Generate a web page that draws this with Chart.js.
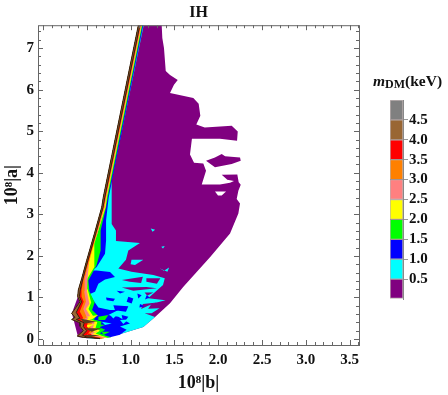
<!DOCTYPE html>
<html lang="en">
<head>
  <meta charset="UTF-8" />
  <title>IH</title>
  <style>
    body { margin: 0; background: #fff; }
    #wrap { position: relative; width: 448px; height: 395px; overflow: hidden; }
    #main { position: absolute; left: 0; top: 0; }
    #bar { position: absolute; left: 380px; top: 90px; }
    #barTitle {
      position: absolute; left: 373px; top: 72px; white-space: nowrap;
      font: bold 15.5px "Liberation Serif", serif; color: #111;
    }
    #barTitle sub { font-size: 12px; vertical-align: -2px; line-height: 0; }
  </style>
  <script src="https://cdn.jsdelivr.net/npm/chart.js"></script>
</head>
<body>
<div id="wrap">
  <canvas id="main" width="448" height="395"></canvas>
  <div id="barTitle"><i>m</i><sub>DM</sub>(keV)</div>
  <canvas id="bar" width="68" height="220"></canvas>
</div>
<script>
  // all contours are [|b|, |a|] in units of 10^-8

  // left edge of the allowed region, shared by every band
  const edge = [[1.088,7.55],[0.688,3.41],[0.67,3.17],[0.586,2.53],[0.498,1.89],[0.441,1.45],[0.403,1.18],[0.396,1.02],[0.422,0.895],[0.327,0.615],[0.365,0.52],[0.327,0.47],[0.422,0.39],[0.422,0.31],[0.46,0.2],[0.392,0.07],[0.46,0.04],[0.651,0.01]];

  // outline of the 0 - 0.5 keV region
  const purpleOuter = [[1.088,7.55],[1.355,7.55],[1.362,7.24],[1.381,7.0],[1.401,6.45],[1.45,6.35],[1.538,6.23],[1.495,6.12],[1.45,5.92],[1.716,5.8],[1.777,5.66],[1.796,5.37],[1.75,5.16],[1.846,5.09],[2.154,5.13],[2.223,4.99],[2.215,4.77],[2.02,4.82],[1.7,4.82],[1.678,4.44],[1.724,4.24],[1.83,4.22],[1.861,4.05],[1.812,3.72],[2.02,3.72],[2.135,3.76],[2.18,3.8],[2.104,3.83],[2.04,3.95],[2.218,3.96],[2.234,3.77],[2.257,3.71],[2.23,3.57],[2.211,3.37],[2.249,3.26],[2.23,3.02],[2.135,2.54],[1.906,1.97],[1.6,1.25],[1.45,0.86],[1.279,0.53],[1.145,0.29],[0.913,0.14],[0.765,0.06],[0.502,0.02],[0.4,0.05],[0.33,0.62],[0.4,1.03],[0.67,3.17]];
  const purpleIsland = [[1.861,4.29],[1.963,4.37],[2.04,4.45],[2.078,4.4],[2.249,4.37],[2.257,4.29],[2.154,4.21],[1.963,4.13]];
  const whiteHole = [[1.963,3.55],[2.089,3.55],[2.04,3.45],[1.998,3.45]];

  // right hand contours of the nested bands, top to bottom
  const cyanRight = [[1.15,7.55],[0.784,3.81],[0.784,2.77],[0.833,2.61],[0.833,2.36],[1.107,2.31],[0.974,2.13],[0.947,1.91],[0.86,1.695],[1.01,1.62],[1.26,1.54],[1.39,1.46],[1.37,1.3],[1.28,1.13],[1.2,0.98],[1.4,0.93],[1.24,0.85],[1.2,0.73],[1.33,0.74],[1.24,0.62],[1.16,0.62],[1.279,0.53],[1.145,0.29],[0.913,0.14],[0.765,0.06],[0.502,0.02]];
  const blueRight = [[1.145,7.55],[0.75,3.41],[0.72,2.85],[0.72,2.37],[0.708,2.05],[0.613,1.73],[0.567,1.65],[0.613,1.65],[0.765,1.61],[0.822,1.49],[0.708,1.43],[0.632,1.33],[0.594,1.135],[0.537,1.08],[0.575,0.935],[0.632,0.76],[0.765,0.7],[0.86,0.7],[0.746,0.575],[0.86,0.535],[0.993,0.375],[0.879,0.3],[0.955,0.22],[0.879,0.1],[0.765,0.04],[0.61,0.02]];
  const greenRight = [[1.136,7.55],[0.74,3.41],[0.72,3.17],[0.658,2.61],[0.658,2.13],[0.61,1.77],[0.518,1.41],[0.53,1.15],[0.59,0.88],[0.56,0.7],[0.62,0.58],[0.58,0.47],[0.67,0.42],[0.65,0.28],[0.71,0.22],[0.65,0.14],[0.72,0.08],[0.78,0.04]];
  const yellowRight = [[1.128,7.55],[0.73,3.41],[0.715,3.17],[0.63,2.6],[0.586,2.29],[0.586,1.73],[0.506,1.45],[0.51,1.2],[0.55,0.88],[0.52,0.72],[0.57,0.56],[0.54,0.47],[0.62,0.41],[0.6,0.27],[0.65,0.2],[0.6,0.13],[0.67,0.08],[0.74,0.03]];
  const pinkRight = [[1.124,7.55],[0.724,3.41],[0.705,3.17],[0.62,2.53],[0.537,2.05],[0.506,1.41],[0.5,1.15],[0.53,0.85],[0.49,0.72],[0.54,0.55],[0.5,0.47],[0.59,0.4],[0.57,0.27],[0.62,0.18],[0.56,0.12],[0.64,0.07],[0.72,0.03]];
  const orangeRight = [[1.118,7.55],[0.718,3.41],[0.7,3.17],[0.614,2.53],[0.53,1.89],[0.475,1.45],[0.47,1.15],[0.49,0.9],[0.46,0.72],[0.5,0.52],[0.46,0.47],[0.56,0.38],[0.54,0.28],[0.58,0.18],[0.53,0.12],[0.6,0.06],[0.7,0.02]];
  const redRight = [[1.112,7.55],[0.712,3.41],[0.69,3.17],[0.606,2.53],[0.52,1.89],[0.462,1.45],[0.44,1.18],[0.44,1.02],[0.465,0.895],[0.42,0.66],[0.46,0.5],[0.43,0.46],[0.51,0.38],[0.5,0.3],[0.54,0.19],[0.5,0.1],[0.56,0.06],[0.68,0.02]];
  const brownRight = [[1.105,7.55],[0.705,3.41],[0.685,3.17],[0.6,2.53],[0.512,1.89],[0.455,1.45],[0.425,1.18],[0.415,1.02],[0.44,0.895],[0.38,0.64],[0.42,0.5],[0.38,0.47],[0.47,0.39],[0.46,0.3],[0.5,0.2],[0.45,0.09],[0.5,0.05],[0.65,0.01]];

  // patches of other levels scattered through the lower part
  const purplePatches = [
    [[0.90,1.42],[1.14,1.5],[1.12,1.35],[0.99,1.38]],
    [[1.18,1.46],[1.34,1.46],[1.30,1.33],[1.18,1.38]],
    [[0.90,1.24],[1.18,1.25],[1.30,1.22],[1.03,1.16]],
    [[1.16,1.12],[1.26,1.12],[1.19,1.04]],
    [[1.30,0.88],[1.14,0.84],[1.12,0.72],[1.2,0.8]]
  ];
  const cyanPatches = [
    [[1.01,1.91],[1.145,1.91],[1.05,1.78],[1.0,1.8]],
    [[1.23,2.66],[1.28,2.63],[1.25,2.58]],
    [[1.35,2.22],[1.39,2.24],[1.37,2.18]],
    [[1.33,1.7],[1.42,1.62],[1.44,1.72],[1.38,1.64]]
  ];
  const bluePatches = [
    [[0.719,1.0],[0.822,0.967],[0.803,0.911],[0.727,0.935]],
    [[0.841,1.159],[0.936,1.135],[0.879,1.095]],
    [[0.974,1.015],[1.031,0.975],[1.012,0.855],[0.955,0.895]],
    [[0.803,0.815],[0.974,0.79],[0.947,0.655],[0.822,0.695]],
    [[1.077,1.095],[1.126,1.055],[1.088,0.975]],
    [[1.183,1.055],[1.221,1.0],[1.164,0.95]],
    [[1.107,0.84],[1.164,0.79],[1.1,0.76]],
    [[0.898,0.576],[0.974,0.536],[0.917,0.376]]
  ];
  const cyanLow = [
    [[0.765,0.576],[0.86,0.616],[0.803,0.496]],
    [[0.879,0.456],[0.974,0.472],[0.917,0.36]],
    [[0.67,0.416],[0.784,0.376],[0.708,0.336]]
  ];
  const greenLow = [
    [[0.632,0.536],[0.746,0.576],[0.708,0.456],[0.632,0.456]],
    [[0.575,0.376],[0.708,0.336],[0.613,0.256]],
    [[0.67,0.176],[0.765,0.176],[0.689,0.096]]
  ];
  const yellowLow = [
    [[0.498,0.536],[0.632,0.576],[0.556,0.472]],
    [[0.479,0.336],[0.594,0.36],[0.517,0.28]],
    [[0.556,0.216],[0.632,0.232],[0.594,0.152]]
  ];
  const brownLow = [
    [[0.422,0.496],[0.613,0.416],[0.479,0.376]],
    [[0.479,0.256],[0.67,0.256],[0.556,0.176]],
    [[0.46,0.096],[0.651,0.096],[0.537,0.04]]
  ];
  const redLow = [
    [[0.498,0.136],[0.556,0.12],[0.529,0.04]]
  ];

  const xTickLabels = ['0.0','0.5','1.0','1.5','2.0','2.5','3.0','3.5'];
  const yTickLabels = ['0','1','2','3','4','5','6','7'];

  // colour bar
  const barLevels = [0.5,0.5,0.5,0.5,0.5,0.5,0.5,0.5,0.5,0.5];
  const barColors = ['#800080','#00ffff','#0000ff','#00ff00','#ffff00','#ff8080','#ff8000','#ff0000','#996633','#808080'];
  const barTicks = ['0.5','1.0','1.5','2.0','2.5','3.0','3.5','4.0','4.5'];

  const serif = '"Liberation Serif", serif';
  const frameColor = '#666';

  function poly(points, color, line) {
    return {
      data: points.map(p => ({ x: p[0], y: p[1] })),
      showLine: true,
      fill: 'shape',
      backgroundColor: color,
      borderColor: line || color,
      borderWidth: line ? 1 : 0,
      pointRadius: 0,
      tension: 0
    };
  }
  function band(right, color, line) {
    return poly(edge.concat(right.slice().reverse()), color, line);
  }

  // back to front
  const layers = [
    poly(purpleOuter, '#800080'),
    poly(purpleIsland, '#800080'),
    poly(whiteHole, '#ffffff'),
    band(cyanRight, '#00ffff'),
    ...purplePatches.map(p => poly(p, '#800080')),
    ...cyanPatches.map(p => poly(p, '#00ffff')),
    band(blueRight, '#0000ff'),
    ...bluePatches.map(p => poly(p, '#0000ff')),
    ...cyanLow.map(p => poly(p, '#00ffff')),
    band(greenRight, '#00ff00'),
    ...greenLow.map(p => poly(p, '#00ff00')),
    band(yellowRight, '#ffff00'),
    band(pinkRight, '#ff8080'),
    band(orangeRight, '#ff8000'),
    ...yellowLow.map(p => poly(p, '#ffff00')),
    band(redRight, '#ff0000'),
    ...redLow.map(p => poly(p, '#ff0000')),
    band(brownRight, '#996633', '#33210f'),
    ...brownLow.map(p => poly(p, '#5a3d1e'))
  ];
  layers.forEach((l, i) => { l.order = layers.length - i; });

  // frame with inward ticks on all four sides, Mathematica style
  const frameTicks = {
    id: 'frameTicks',
    afterDraw(chart) {
      const { ctx, chartArea: a, scales } = chart;
      ctx.save();
      ctx.strokeStyle = frameColor;
      ctx.lineWidth = 1;
      ctx.beginPath();
      for (let i = 0; i <= 36; i++) {
        const px = Math.round(scales.x.getPixelForValue(i / 10)) + 0.5;
        const len = i % 5 === 0 ? 5 : 3;
        ctx.moveTo(px, a.bottom); ctx.lineTo(px, a.bottom - len);
        ctx.moveTo(px, a.top); ctx.lineTo(px, a.top + len);
      }
      for (let i = 0; i <= 37; i++) {
        const py = Math.round(scales.y.getPixelForValue(i / 5)) + 0.5;
        const len = i % 5 === 0 ? 5 : 3;
        ctx.moveTo(a.left, py); ctx.lineTo(a.left + len, py);
        ctx.moveTo(a.right, py); ctx.lineTo(a.right - len, py);
      }
      ctx.stroke();
      ctx.strokeRect(a.left + 0.5, a.top + 0.5, a.right - a.left, a.bottom - a.top);
      ctx.restore();
    }
  };

  new Chart(document.getElementById('main'), {
    type: 'scatter',
    data: { datasets: layers },
    plugins: [frameTicks],
    options: {
      responsive: false,
      animation: false,
      layout: { padding: { right: 89, top: 0, bottom: 0, left: 0 } },
      plugins: {
        legend: { display: false },
        tooltip: { enabled: false },
        title: {
          display: true, text: 'IH', color: '#111', fullSize: false,
          font: { family: serif, size: 16, weight: 'bold' },
          padding: { top: 3, bottom: 3 }
        }
      },
      scales: {
        x: {
          type: 'linear', min: -0.057, max: 3.607,
          grid: { display: false, drawTicks: false },
          border: { display: false },
          afterFit: s => { s.height = 50; },
          ticks: {
            stepSize: 0.5, includeBounds: false, maxRotation: 0, autoSkip: false, padding: 6, color: '#111',
            font: { family: serif, size: 15, weight: 'bold' },
            callback: v => xTickLabels[Math.round(v * 2)]
          },
          title: {
            display: true, text: '10⁸|b|', color: '#111',
            font: { family: serif, size: 18, weight: 'bold' },
            padding: { top: 0, bottom: 1 }
          }
        },
        y: {
          type: 'linear', min: -0.144, max: 7.55,
          grid: { display: false, drawTicks: false },
          border: { display: false },
          afterFit: s => { s.width = 38; },
          ticks: {
            stepSize: 1, includeBounds: false, padding: 4, color: '#111',
            font: { family: serif, size: 15, weight: 'bold' },
            callback: v => yTickLabels[Math.round(v)]
          },
          title: {
            display: true, text: '10⁸|a|', color: '#111',
            font: { family: serif, size: 18, weight: 'bold' },
            padding: { top: 2, bottom: 0 }
          }
        }
      }
    }
  });

  new Chart(document.getElementById('bar'), {
    type: 'bar',
    data: {
      labels: ['m'],
      datasets: barLevels.map((v, i) => ({
        data: [v],
        backgroundColor: barColors[i],
        borderColor: 'rgba(60,30,30,0.35)',
        borderWidth: 1,
        borderSkipped: false,
        categoryPercentage: 1,
        barPercentage: 1
      }))
    },
    options: {
      responsive: false,
      animation: false,
      layout: { padding: { left: 10, top: 10, bottom: 11, right: 0 } },
      plugins: { legend: { display: false }, tooltip: { enabled: false } },
      scales: {
        x: { stacked: true, display: false },
        y: {
          stacked: true, position: 'right', min: 0, max: 5,
          afterFit: s => { s.width = 45; },
          grid: {
            drawOnChartArea: false, tickLength: 5,
            tickColor: ctx => (ctx.tick.value > 0 && ctx.tick.value < 5 ? '#999' : 'rgba(0,0,0,0)')
          },
          border: { color: '#888' },
          ticks: {
            stepSize: 0.5, padding: 1, color: '#111', autoSkip: false,
            font: { family: serif, size: 15, weight: 'bold' },
            callback: v => barTicks[Math.round(v * 2) - 1] || ''
          }
        }
      }
    }
  });
</script>
</body>
</html>
